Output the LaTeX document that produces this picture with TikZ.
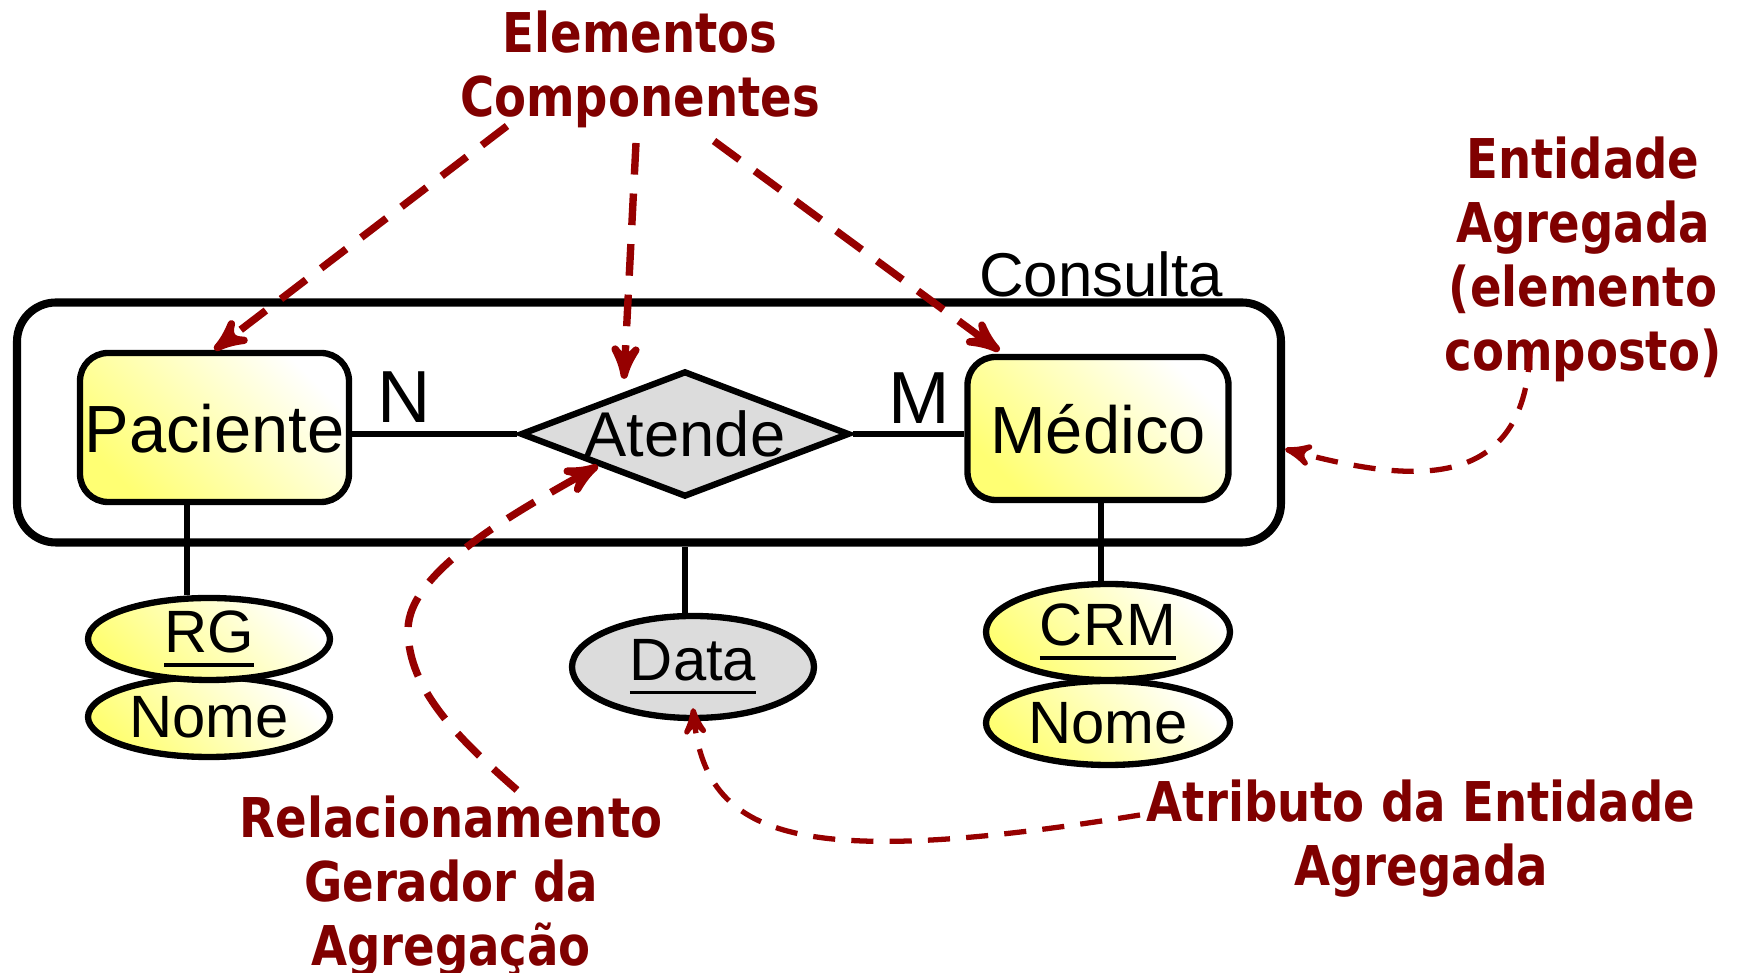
\documentclass[tikz,border=0pt]{standalone}
\usepackage{fontspec}
\usepackage{xcolor}
\usepackage{tikz}
\usetikzlibrary{arrows,positioning,shapes}
\usetikzlibrary{calc}
\newfontfamily\erfont{Liberation Sans}
\newfontfamily\notefont{DejaVu Sans}[FakeStretch=0.85]
\definecolor{notered}{RGB}{128,0,0}
\definecolor{arrowred}{RGB}{150,0,0}
\definecolor{relgray}{RGB}{220,220,220}
\newcommand{\pkey}[1]{\setbox0\hbox{#1}\rlap{\rule[-3.9pt]{\wd0}{1.1pt}}\box0}

\begin{document}
\begin{tikzpicture}[x=0.1mm,y=-0.1mm,
  every node/.style={inner sep=0pt,font=\erfont},
  aggregate/.style={draw,line width=2.3pt,rounded corners=3.9mm},
  entity/.style={draw,line width=1.8pt,rounded corners=2.8mm,
    bottom color=yellow!55,top color=white,shading angle=-45,
    text height=14pt,text depth=0pt,font=\erfont\fontsize{19}{22}\selectfont},
  relation/.style={draw,line width=1.8pt,diamond,aspect=2.6,fill=relgray,
    minimum width=32.9mm,minimum height=12.6mm,font=\erfont\fontsize{18}{21}\selectfont},
  ellbase/.style={draw,line width=1.8pt,ellipse,minimum width=24.2mm,
    font=\erfont\fontsize{17}{20}\selectfont},
  attr/.style={ellbase,bottom color=yellow!55,top color=white,shading angle=-45},
  card/.style={font=\erfont\fontsize{21}{24}\selectfont},
  link/.style={line width=1.8pt},
  note/.style={align=center,text=notered,
    font=\notefont\bfseries\fontsize{15.6}{18.2}\selectfont},
  to/.style={->,>=stealth',arrowred,line width=2.1pt,dash pattern=on 9pt off 5.4pt},
  thinto/.style={to,line width=1.5pt,dash pattern=on 6.3pt off 4.6pt}]

    \useasboundingbox (0,0) rectangle (1738,973);

    \node[aggregate,minimum width=126.4mm,minimum height=24mm](agg) at (649,422.5){};
    \node[font=\erfont\fontsize{17.6}{21}\selectfont,anchor=base east](cons) at (1224,297){Consulta};

    \node[entity,minimum width=26.9mm,minimum height=14.9mm](pac) at (214.5,427.5){Paciente};
    \node[entity,minimum width=26.1mm,minimum height=14.3mm](med) at (1098,428.5){Médico};
    \node[relation](atd) at (685,434){Atende};
    \node[card](n) at (404,397){N};
    \node[card](m) at (919,398){M};

    \node[attr,minimum height=8mm](nome1) at (209,717){Nome};
    \node[attr,minimum height=8.2mm](rg) at (209,639){\pkey{RG}};
    \node[ellbase,fill=relgray,minimum height=10.2mm](dat) at (693,667){\pkey{Data}};
    \node[attr,minimum width=24.4mm,minimum height=8.4mm](nome2) at (1108,723){Nome};
    \node[attr,minimum width=24.4mm,minimum height=9.6mm](crm) at (1108,632){\pkey{CRM}};

    \draw[link](atd.west) -- (atd.west -| pac.east);
    \draw[link](atd.east) -- (atd.east -| med.west);
    \draw[link]([xshift=-2.75mm]pac.south) -- ([xshift=-2.75mm]pac.south |- rg.north);
    \draw[link](atd.south |- agg.south) -- (atd.south |- dat.north);
    \draw[link]([xshift=0.3mm]med.south) -- ([xshift=0.3mm]med.south |- crm.north);

    \node[note](comp) at (640,69.6){Elementos\\Componentes};
    \node[note](ent) at (1583,259.5){Entidade\\Agregada\\(elemento\\composto)};
    \node[note](rel) at (451,886.5){Relacionamento\\Gerador da\\Agregação};
    \node[note](atr) at (1421,838.5){Atributo da Entidade\\Agregada};

    \coordinate (c1) at (507,126);
    \coordinate (c2) at (636,143);
    \coordinate (c3) at (714,141);
    \coordinate (c4) at (1530,350);
    \coordinate (c5) at (517,790);
    \coordinate (c6) at (1140,815);

    \draw[to](c1) -- (pac.north);
    \draw[to](c2) -- ([xshift=-6.1mm,yshift=-1.1mm]atd.north);
    \draw[to](c3) -- ([xshift=3.5mm,yshift=0.3mm]med.north west);
    \draw[thinto](c4) .. controls (1525,500) and (1400,480) .. ([yshift=-2.65mm]agg.east);
    \draw[to](c5) .. controls (460,740) and (408,690) .. (408,630)
        .. controls (408,570) and (520,510) .. (atd.200);
    \draw[thinto](c6) .. controls (800,870) and (705,840) .. ([yshift=1.3mm]dat.south);
\end{tikzpicture}
\end{document}
